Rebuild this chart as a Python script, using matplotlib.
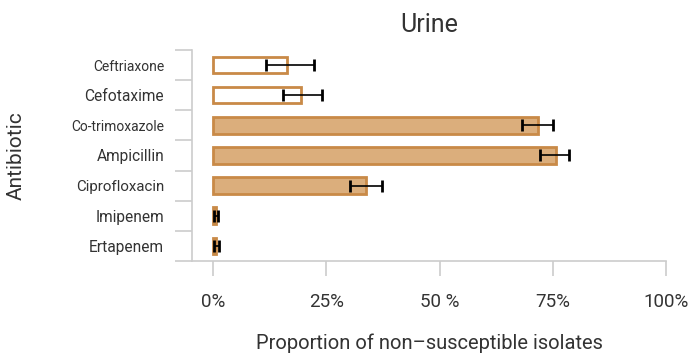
import matplotlib
matplotlib.use('Agg')
import matplotlib.pyplot as plt
import numpy as np

plt.rcParams['font.family'] = ['Roboto', 'DejaVu Sans']

antibiotics = ['Ceftriaxone', 'Cefotaxime', 'Co-trimoxazole', 'Ampicillin',
               'Ciprofloxacin', 'Imipenem', 'Ertapenem']
proportion = [0.163, 0.194, 0.717, 0.758, 0.338, 0.005, 0.005]
ci_low = [0.117, 0.154, 0.682, 0.721, 0.302, 0.001, 0.001]
ci_high = [0.223, 0.241, 0.751, 0.786, 0.373, 0.011, 0.013]
hollow = [True, True, False, False, False, False, False]
label_sizes = [10, 11.2, 10, 11.2, 10.8, 11.2, 11.2]

xticks = [0, 0.25, 0.5, 0.75, 1.0]
xticklabels = ['0%', '25%', '50 %', '75%', '100%']

fill = '#dbae7c'
edge = '#c98a47'
grey = '#cccccc'
text = '#333333'

fig = plt.figure(figsize=(6.97, 3.54), dpi=100)
ax = fig.add_axes([0.2755, 0.2627, 0.6800, 0.5961])

y = np.arange(len(antibiotics))
colors = ['white' if h else fill for h in hollow]
ax.barh(y, proportion, height=0.55, color=colors, edgecolor=edge, linewidth=2, zorder=2)

p = np.array(proportion)
err = [p - np.array(ci_low), np.array(ci_high) - p]
ax.errorbar(p, y, xerr=err, fmt='none', ecolor='black', elinewidth=1.2,
            capsize=4.5, capthick=2, zorder=3)

ax.set_xlim(-0.047, 1.0)
ax.set_ylim(len(antibiotics) - 0.5, -0.5)

ax.set_xticks(xticks)
ax.set_xticklabels(xticklabels, fontsize=13.5, color=text)
ax.set_yticks(y)
ax.set_yticklabels(antibiotics, color=text)
for lbl, size in zip(ax.get_yticklabels(), label_sizes):
    lbl.set_fontsize(size)
ax.tick_params(axis='y', length=0, pad=20)
ax.tick_params(axis='x', length=11, width=1.2, color=grey, pad=12)

# boundary ticks between categories on the y axis
ax.set_yticks(np.arange(-0.5, len(antibiotics)), minor=True)
ax.tick_params(axis='y', which='minor', length=12, width=1.2, color=grey)

for side in ['top', 'right']:
    ax.spines[side].set_visible(False)
for side in ['left', 'bottom']:
    ax.spines[side].set_color(grey)
    ax.spines[side].set_linewidth(1.2)

ax.set_title('Urine', fontsize=18, color=text, pad=13)
ax.set_xlabel('Proportion of non\u2013susceptible isolates', fontsize=14.5, color=text, labelpad=16)
ax.set_ylabel('Antibiotic', fontsize=15, color=text)
ax.yaxis.set_label_coords(-0.35, 0.5)

fig.savefig('out.png', dpi=100)
